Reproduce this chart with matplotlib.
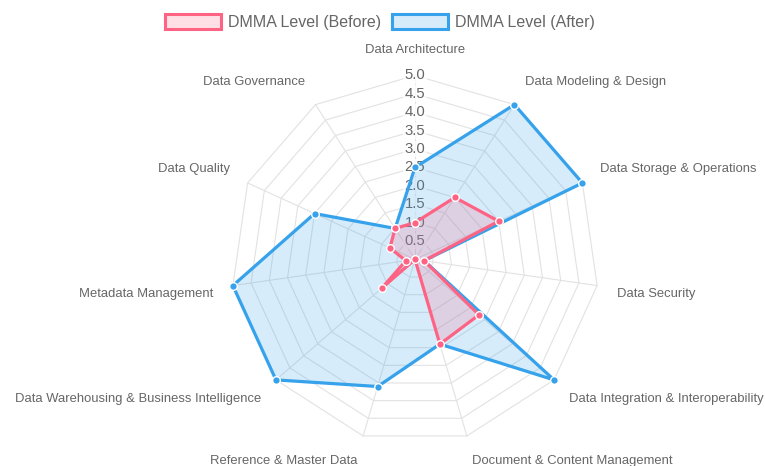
import numpy as np
import matplotlib
matplotlib.use("Agg")
import matplotlib.pyplot as plt
from matplotlib.patches import Patch

plt.rcParams['font.family'] = ['Liberation Sans', 'DejaVu Sans']

# data
categories = ['Data Architecture', 'Data Modeling & Design', 'Data Storage & Operations',
              'Data Security', 'Data Integration & Interoperability',
              'Document & Content Management', 'Reference & Master Data',
              'Data Warehousing & Business Intelligence', 'Metadata Management',
              'Data Quality', 'Data Governance']
before = [1.0, 2.0, 2.5, 0.25, 2.3, 2.4, 0.0, 1.2, 0.25, 0.75, 1.0]
after = [2.5, 5.0, 5.0, 0.25, 5.0, 2.4, 3.6, 5.0, 5.0, 3.0, 1.0]
ticks = [0.5, 1.0, 1.5, 2.0, 2.5, 3.0, 3.5, 4.0, 4.5, 5.0]
series_names = ['DMMA Level (Before)', 'DMMA Level (After)']

red = (255/255, 99/255, 132/255)
blue = (54/255, 162/255, 235/255)
grid_col = '#e2e2e2'
txt_col = '#666666'

W, H = 765, 466
cx, cy, R = 415, 259.4, 184  # pixel centre / radius of the radar

fig = plt.figure(figsize=(W/100, H/100), dpi=100)
ax = fig.add_axes([(cx-R)/W, (H-cy-R)/H, 2*R/W, 2*R/H], projection='polar')
ax.set_theta_zero_location('N')
ax.set_theta_direction(-1)
ax.set_ylim(0, 5)
ax.axis('off')

n = len(categories)
theta = np.arange(n) * 2*np.pi/n
theta_c = np.append(theta, theta[0])

# polygon grid + spokes
for t in ticks:
    ax.plot(theta_c, [t]*(n+1), color=grid_col, lw=0.8, zorder=1, clip_on=False)
for th in theta:
    ax.plot([th, th], [0, 5], color=grid_col, lw=0.8, zorder=1, clip_on=False)

# scale labels on the top spoke
for t in ticks:
    ax.text(0, t, '%.1f' % t, ha='center', va='center', fontsize=10.7, color=txt_col,
            zorder=2, bbox=dict(boxstyle='square,pad=0.1', fc=(1, 1, 1, 0.75), ec='none'))

# point labels
for th, lab in zip(theta, categories):
    deg = np.degrees(th)
    if np.isclose(deg, 0) or np.isclose(deg, 180):
        ha = 'center'
    elif deg < 180:
        ha = 'left'
    else:
        ha = 'right'
    if deg < 90 or deg > 270:
        va = 'bottom'
    else:
        va = 'top'
    ax.text(th, 5.54, lab, ha=ha, va=va, fontsize=9.4, color=txt_col, zorder=2)

# datasets (first one drawn on top like chart.js)
for vals, col, z in [(after, blue, 3), (before, red, 5)]:
    v = np.append(vals, vals[0])
    ax.fill(theta_c, v, color=col + (0.2,), lw=0, zorder=z, clip_on=False)
    ax.plot(theta_c, v, color=col, lw=2.3, zorder=z+0.5, solid_joinstyle='miter', clip_on=False)
    ax.plot(theta, vals, 'o', ms=5.5, mfc=col, mec='white', mew=1, zorder=z+1, clip_on=False)

handles = [Patch(facecolor=red + (0.2,), edgecolor=red, lw=2.2),
           Patch(facecolor=blue + (0.2,), edgecolor=blue, lw=2.2)]
leg = fig.legend(handles, series_names, loc='center', bbox_to_anchor=(380/W, 1-22/H),
                 ncol=2, frameon=False, fontsize=11.5, handlelength=3.5, handleheight=1.1,
                 handletextpad=0.45, columnspacing=0.65, borderpad=0)
for t in leg.get_texts():
    t.set_color(txt_col)

plt.savefig('out.png', dpi=100)
